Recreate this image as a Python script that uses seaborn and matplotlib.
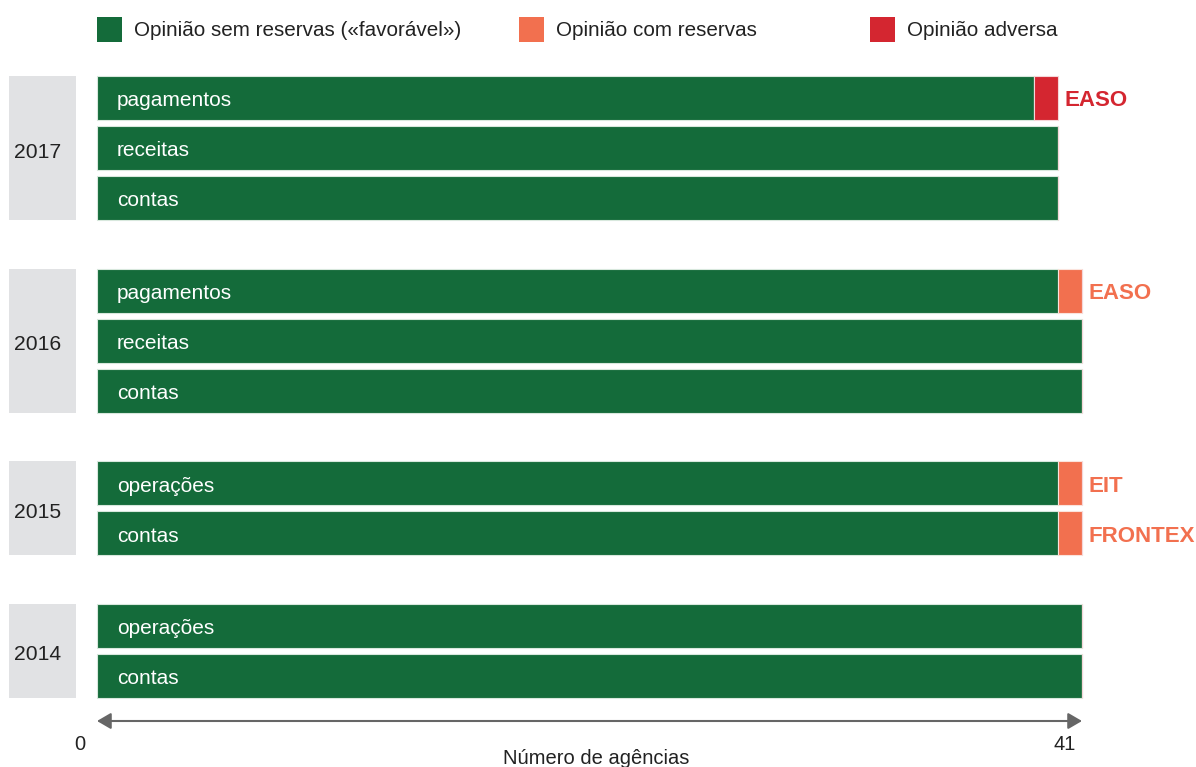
import matplotlib
matplotlib.use("Agg")
import matplotlib.pyplot as plt
from matplotlib.patches import Rectangle
import numpy as np
import pandas as pd
import seaborn as sns

# ── data ──────────────────────────────────────────────────────────────────────
YEARS      = ["2017", "2017", "2017", "2016", "2016", "2016", "2015", "2015", "2014", "2014"]
CATEGORIES = ["pagamentos", "receitas", "contas",
              "pagamentos", "receitas", "contas",
              "operações", "contas",
              "operações", "contas"]
FAVORAVEL  = [39, 40, 40, 40, 41, 41, 40, 40, 41, 41]
RESERVAS   = [0, 0, 0, 1, 0, 0, 1, 1, 0, 0]
ADVERSA    = [1, 0, 0, 0, 0, 0, 0, 0, 0, 0]
NOTES      = ["EASO", "", "", "EASO", "", "", "EIT", "FRONTEX", "", ""]
N_AGENCIES = 41

LEGEND = ["Opinião sem reservas («favorável»)", "Opinião com reservas", "Opinião adversa"]
XLABEL = "Número de agências"

GREEN, ORANGE, RED, GREY = "#146b3a", "#f2704f", "#d42630", "#e1e2e4"

sns.set_theme(style="white")
plt.rcParams["font.family"] = ["Liberation Sans", "DejaVu Sans"]

df = pd.DataFrame({"year": YEARS, "cat": CATEGORIES, "fav": FAVORAVEL,
                   "res": RESERVAS, "adv": ADVERSA, "note": NOTES})

# layout (pixel-like units on the y axis)
W, H = 1196, 767
X0, X1 = 97, 1082
PX = (X1 - X0) / N_AGENCIES
ROW, BAR_H, GROUP_GAP, TOP = 50, 44, 42.5, 98

grp = df["year"].ne(df["year"].shift()).cumsum() - 1
df["y"] = TOP + ROW * np.arange(len(df)) + GROUP_GAP * grp

fig = plt.figure(figsize=(W / 100, H / 100), dpi=100)
ax = fig.add_axes([0, 0, 1, 1])
ax.set_xlim(-X0 / PX, (W - X0) / PX)
ax.set_ylim(H, 0)
ax.axis("off")

# bars
ax.barh(df["y"], df["fav"], height=BAR_H, color=GREEN, edgecolor="#d8e8dd", linewidth=0.8)
ax.barh(df["y"], df["res"], left=df["fav"], height=BAR_H, color=ORANGE,
        edgecolor="#fbe3dc", linewidth=0.8)
ax.barh(df["y"], df["adv"], left=df["fav"] + df["res"], height=BAR_H, color=RED,
        edgecolor="#f5d6d8", linewidth=0.8)

dx = lambda px: px / PX
for _, r in df.iterrows():
    ax.text(dx(20), r["y"] + 3, r["cat"], color="white", fontsize=15,
            va="center", ha="left")
    if r["note"]:
        c = RED if r["adv"] > 0 else ORANGE
        ax.text(r["fav"] + r["res"] + r["adv"] + dx(7), r["y"] + 3, r["note"],
                color=c, fontsize=16, fontweight="bold", va="center", ha="left")

# year boxes
for yr, g in df.groupby("year", sort=False):
    top, bot = g["y"].min() - BAR_H / 2, g["y"].max() + BAR_H / 2
    ax.add_patch(Rectangle((dx(9 - X0), top), dx(67), bot - top,
                           facecolor=GREY, edgecolor="none"))
    ax.text(dx(14 - X0), (top + bot) / 2 + 4, yr, fontsize=15.2, color="#222222",
            va="center", ha="left")

# legend
for i, (lab, c) in enumerate(zip(LEGEND, [GREEN, ORANGE, RED])):
    x = [97, 519, 870][i]
    ax.add_patch(Rectangle((dx(x - X0), 17), dx(25), 25, facecolor=c, edgecolor="none"))
    ax.text(dx(x - X0 + 37), 30, lab, fontsize=14.9, color="#222222",
            va="center", ha="left")

# axis arrow
ax.annotate("", xy=(0, 721), xytext=(N_AGENCIES, 721),
            arrowprops=dict(arrowstyle="<|-|>,head_length=0.6,head_width=0.35",
                            color="#666666", lw=1.5,
                            mutation_scale=14, shrinkA=0, shrinkB=0))
ax.text(dx(-17), 744, "0", fontsize=14.5, color="#222222", ha="center", va="center")
ax.text(N_AGENCIES - dx(17), 744, str(N_AGENCIES), fontsize=14.5, color="#222222",
        ha="center", va="center")
ax.text(dx(596 - X0), 759, XLABEL, fontsize=14.5, color="#222222",
        ha="center", va="center")

fig.savefig("out.png", dpi=100)
